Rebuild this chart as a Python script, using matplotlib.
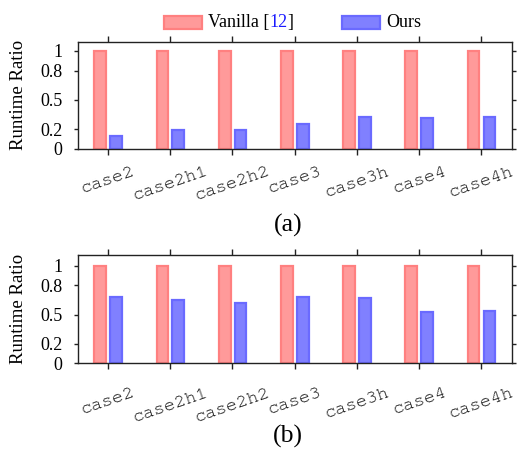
import numpy as np
import matplotlib
matplotlib.use("Agg")
import matplotlib.pyplot as plt
from matplotlib.patches import Rectangle

cases = ["case2", "case2h1", "case2h2", "case3", "case3h", "case4", "case4h"]
vanilla_a = [1.0, 1.0, 1.0, 1.0, 1.0, 1.0, 1.0]
ours_a = [0.133, 0.194, 0.194, 0.252, 0.33, 0.316, 0.323]
vanilla_b = [1.0, 1.0, 1.0, 1.0, 1.0, 1.0, 1.0]
ours_b = [0.676, 0.648, 0.621, 0.679, 0.669, 0.522, 0.536]
yticks = [0, 0.2, 0.5, 0.8, 1]
ytick_labels = ["0", "0.2", "0.5", "0.8", "1"]

red_face = "#ff9a9a"
red_edge = "#ff8080"
blue_face = "#8080ff"
blue_edge = "#6a6aff"
spine_col = "#222222"

plt.rcParams["font.family"] = "Liberation Serif"

fig = plt.figure(figsize=(5.17, 4.57), dpi=100)
ax_a = fig.add_axes([0.150, 0.674, 0.840, 0.235])
ax_b = fig.add_axes([0.150, 0.205, 0.840, 0.237])


def draw_panel(ax, vanilla, ours, ytop, xpad):
    x = np.arange(len(cases))
    ax.bar(x - 0.125, vanilla, width=0.19, color=red_face, edgecolor=red_edge,
           linewidth=1.6)
    ax.bar(x + 0.13, ours, width=0.19, color=blue_face, edgecolor=blue_edge,
           linewidth=1.6)
    ax.set_xlim(-0.49, 6.49)
    ax.set_ylim(0, ytop)
    ax.set_xticks(x)
    ax.set_xticklabels(cases, rotation=19, ha="center",
                       family=["FreeMono", "Liberation Mono"],
                       fontsize=13.5, color="#111111")
    ax.set_yticks(yticks)
    ax.set_yticklabels(ytick_labels, fontsize=13)
    ax.tick_params(axis="x", direction="out", length=4, width=1, pad=xpad,
                   top=True, color=spine_col)
    ax.tick_params(axis="y", direction="out", length=3, width=1, pad=8,
                   right=True, color=spine_col)
    for s in ax.spines.values():
        s.set_color(spine_col)
        s.set_linewidth(1.0)
    ax.set_ylabel("Runtime Ratio", fontsize=13.5, va="center")
    ax.yaxis.set_label_coords(-0.135, 0.5)


draw_panel(ax_a, vanilla_a, ours_a, 1.095, 7)
draw_panel(ax_b, vanilla_b, ours_b, 1.11, 12)

fig.text(0.557, 0.506, "(a)", ha="center", va="center", fontsize=18.5)
fig.text(0.557, 0.044, "(b)", ha="center", va="center", fontsize=18.5)

# legend drawn by hand so the citation number can be blue
leg_y = 1 - 22.5 / 457
ph = 13 / 457
pw = 38 / 517
fig.add_artist(Rectangle((164 / 517, leg_y - ph / 2), pw, ph, transform=fig.transFigure,
                         facecolor=red_face, edgecolor=red_edge, linewidth=1.6))
fig.add_artist(Rectangle((342 / 517, leg_y - ph / 2), pw, ph, transform=fig.transFigure,
                         facecolor=blue_face, edgecolor=blue_edge, linewidth=1.6))
fig.canvas.draw()
r = fig.canvas.get_renderer()
t1 = fig.text(208 / 517, leg_y, "Vanilla [", ha="left", va="center", fontsize=13)
bb = t1.get_window_extent(renderer=r)
t2 = fig.text(bb.x1 / fig.bbox.width, leg_y, "12", ha="left", va="center",
              fontsize=13, color="#1a1aff")
bb2 = t2.get_window_extent(renderer=r)
fig.text(bb2.x1 / fig.bbox.width, leg_y, "]", ha="left", va="center", fontsize=13)
fig.text(386 / 517, leg_y, "Ours", ha="left", va="center", fontsize=13)

plt.savefig("out.png", dpi=100)
